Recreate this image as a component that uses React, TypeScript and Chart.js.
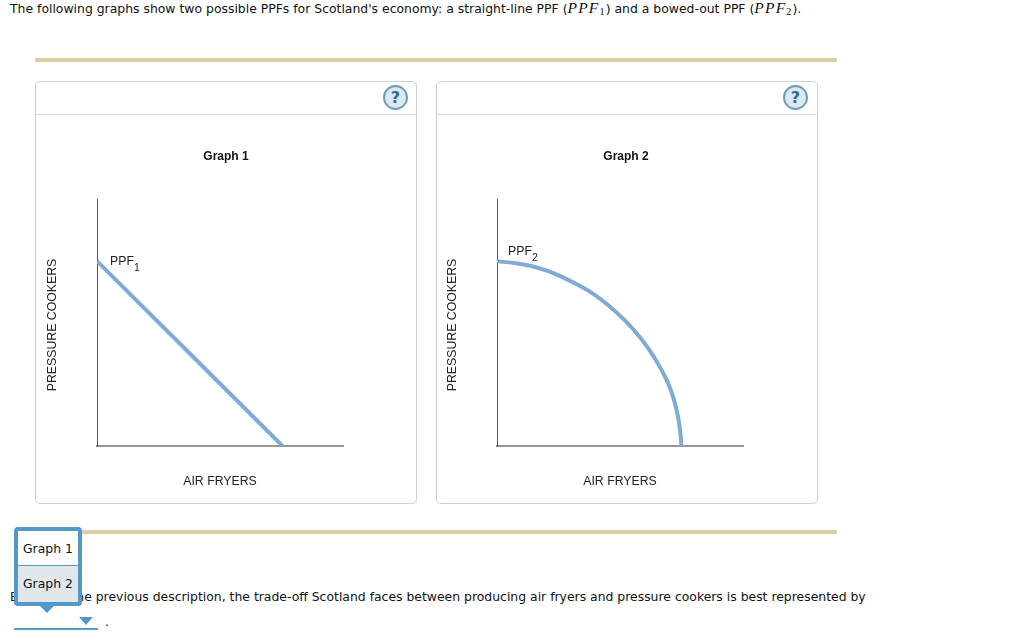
import React, { useEffect, useRef } from "react";
import { Chart, registerables } from "chart.js";

Chart.register(...registerables);

const ppf1X = [0, 75.4];
const ppf1Y = [75, 0];
const ppf2X = [0, 7, 13.8, 20.5, 27.2, 34, 39.3, 45.5, 52.2, 59, 64.4, 69.1, 71.8, 73.8, 74.7, 75];
const ppf2Y = [74.9, 74.2, 73, 71, 68.2, 64.8, 61.6, 56.9, 50.7, 43, 35.2, 26.5, 19.2, 10.8, 3.6, 0];
const xAxisTitle = "AIR FRYERS";
const yAxisTitle = "PRESSURE COOKERS";
const introLead = "The following graphs show two possible PPFs for Scotland's economy: a straight-line PPF (";
const bodyText = "Based on the previous description, the trade-off Scotland faces between producing air fryers and pressure cookers is best represented by";
const dropdownOptions = ["Graph 1", "Graph 2"];

const ARIAL = '"Liberation Sans", Arial, sans-serif';
const VERDANA = '"DejaVu Sans", Verdana, sans-serif';
const LINE = "#7fabd4";
const BLUE = "#5498c8";

function PPFChart({ title, xs, ys, sub, labelDx, labelDy, left }: { title: string; xs: number[]; ys: number[]; sub: string; labelDx: number; labelDy: number; left: number }) {
  const ref = useRef<HTMLCanvasElement>(null);
  useEffect(() => {
    const labels = {
      id: "labels",
      afterDraw(chart: any) {
        const { ctx, scales } = chart;
        ctx.save();
        ctx.fillStyle = "#222";
        ctx.font = `12.3px ${ARIAL}`;
        ctx.textBaseline = "alphabetic";
        const px = scales.x.getPixelForValue(0) + labelDx;
        const py = scales.y.getPixelForValue(75) + labelDy;
        ctx.fillText("PPF", px, py);
        const w = ctx.measureText("PPF").width;
        ctx.font = `10.5px ${ARIAL}`;
        ctx.fillText(sub, px + w, py + 6);
        ctx.font = `12.3px ${ARIAL}`;
        ctx.translate(16, 209);
        ctx.rotate(-Math.PI / 2);
        ctx.textAlign = "center";
        ctx.fillText(yAxisTitle, 0, 4);
        ctx.restore();
      },
    };
    const chart = new Chart(ref.current!, {
      type: "scatter",
      data: {
        datasets: [
          {
            data: xs.map((x, i) => ({ x, y: ys[i] })),
            showLine: true,
            borderColor: LINE,
            borderWidth: 4,
            pointRadius: 0,
            tension: 0.4,
            borderCapStyle: "butt",
          } as any,
        ],
      },
      options: {
        animation: false,
        responsive: false,
        layout: { padding: { left: 0, right: 0, top: 33, bottom: 0 } },
        plugins: {
          legend: { display: false },
          tooltip: { enabled: false },
          title: {
            display: true,
            text: title,
            color: "#111",
            font: { family: ARIAL, size: 12, weight: "bold" },
            padding: { top: 0, bottom: 36 },
          },
        },
        scales: {
          x: {
            type: "linear",
            min: 0,
            max: 100,
            grid: { display: false, drawTicks: false },
            ticks: { display: false },
            border: { display: true, color: "#969696", width: 2 },
            title: {
              display: true,
              text: xAxisTitle,
              color: "#222",
              font: { family: ARIAL, size: 12.3 },
              padding: { top: 0, bottom: 15 },
            },
            afterFit: (s: any) => {
              s.height = 58;
            },
          },
          y: {
            type: "linear",
            min: 0,
            max: 100,
            grid: { display: false, drawTicks: false },
            ticks: { display: false },
            border: { display: true, color: "#555", width: 1 },
            afterFit: (s: any) => {
              s.width = 61;
            },
          },
          spacer: {
            type: "linear",
            position: "right",
            grid: { display: false, drawTicks: false },
            ticks: { display: false },
            border: { display: false },
            afterFit: (s: any) => {
              s.width = 73;
            },
          },
        },
      },
      plugins: [labels],
    } as any);
    return () => chart.destroy();
  }, []);
  return <canvas ref={ref} width={380} height={388} style={{ display: "block", position: "absolute", left, top: 34 }} />;
}

function Card({ left, helpLeft, children }: { left: number; helpLeft: number; children: React.ReactNode }) {
  return (
    <div
      style={{
        position: "absolute",
        left,
        top: 81,
        width: 380,
        height: 421,
        border: "1px solid #cfcfcf",
        borderRadius: 5,
        boxSizing: "content-box",
      }}
    >
      <div style={{ position: "absolute", left: 0, right: 0, top: 32, height: 1, background: "#d8d8d8" }} />
      <div
        style={{
          position: "absolute",
          left: helpLeft,
          top: 3,
          width: 25,
          height: 25,
          boxSizing: "border-box",
          borderRadius: "50%",
          border: "2px solid #6d9cc0",
          background: "#dde8f0",
          color: "#35699a",
          font: `bold 16px ${VERDANA}`,
          lineHeight: "21px",
          textAlign: "center",
        }}
      >
        ?
      </div>
      {children}
    </div>
  );
}

const MathPPF = ({ n }: { n: string }) => (
  <span style={{ fontFamily: '"Liberation Serif", serif', fontSize: 15.5, letterSpacing: 1.2 }}>
    <i>PPF</i>
    <sub style={{ fontSize: 10, verticalAlign: "-2px", lineHeight: 0 }}>{n}</sub>
  </span>
);

const abs = (left: number, top: number): React.CSSProperties => ({ position: "absolute", left, top, whiteSpace: "nowrap" });

export default function App() {
  return (
    <div style={{ position: "absolute", left: 0, top: 0, width: 1024, height: 643, overflow: "hidden", background: "#fff", font: `12.42px ${VERDANA}`, color: "#111" }}>
      <div style={abs(10, -1)}>
        {introLead}
        <MathPPF n="1" />) and a bowed-out PPF (<MathPPF n="2" />).
      </div>
      <div style={{ position: "absolute", left: 35, top: 58, width: 802, height: 4, background: "#dccfa8" }} />
      <Card left={35} helpLeft={347}>
        <PPFChart title="Graph 1" xs={ppf1X} ys={ppf1Y} sub="1" labelDx={13} labelDy={4} left={0} />
      </Card>
      <Card left={436} helpLeft={346}>
        <PPFChart title="Graph 2" xs={ppf2X} ys={ppf2Y} sub="2" labelDx={11} labelDy={-6} left={-1} />
      </Card>
      <div style={{ position: "absolute", left: 35, top: 530, width: 802, height: 4, background: "#dccfa8" }} />
      <div style={abs(10, 589)}>{bodyText}</div>
      <div style={{ position: "absolute", left: 14, top: 527, width: 60, height: 71, border: `4px solid ${BLUE}`, borderRadius: 4, background: "#fff" }}>
        <div style={{ height: 35, lineHeight: "35px", paddingLeft: 5, borderBottom: `1px solid ${BLUE}`, boxSizing: "border-box" }}>{dropdownOptions[0]}</div>
        <div style={{ height: 36, lineHeight: "36px", paddingLeft: 5, background: "#dfe7eb" }}>{dropdownOptions[1]}</div>
      </div>
      <div style={{ position: "absolute", left: 40, top: 606, width: 0, height: 0, borderLeft: "7.5px solid transparent", borderRight: "7.5px solid transparent", borderTop: `7px solid ${BLUE}` }} />
      <div style={{ position: "absolute", left: 78.5, top: 617, width: 0, height: 0, borderLeft: "7.5px solid transparent", borderRight: "7.5px solid transparent", borderTop: `8px solid ${BLUE}` }} />
      <div style={{ position: "absolute", left: 14, top: 628, width: 84, height: 1.5, background: BLUE }} />
      <div style={abs(105, 614)}>.</div>
    </div>
  );
}
